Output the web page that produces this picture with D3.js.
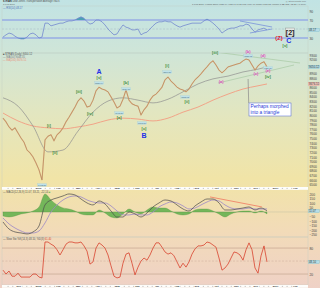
<!DOCTYPE html>
<html>
<head>
<meta charset="utf-8">
<script src="https://cdn.jsdelivr.net/npm/d3@7"></script>
<style>
  body { margin: 0; background: #fff; }
  svg { display: block; font-family: "Liberation Sans", Arial, sans-serif; }
</style>
</head>
<body>
<div id="chart"></div>
<script>
// closes, one sample every ~3 sessions
var closes = [7940,7860,7750,7680,7730,7620,7510,7420,7250,7190,
              7100,6970,6820,6600,7470,7550,7580,7450,7580,7640,
              7730,7860,7960,8070,8180,8310,8380,8310,8180,8200,
              8330,8530,8610,8570,8550,8510,8400,8290,8160,8200,
              8350,8550,8330,8250,8220,8200,8010,8120,8200,8330,
              8420,8460,8530,8610,8770,8830,8740,8680,8610,8570,
              8550,8510,8570,8680,8770,8830,8900,8980,9050,9130,
              9180,9090,8980,8920,8980,9050,9070,9090,9110,9130,
              9180,9220,9200,9090,8980,9070,9130,9160,9050];

// moving averages, sampled coarser
var maIdx = [0,5,10,15,20,25,30,35,40,45,50,55,60,65,70,75,80,85,88];
var ma50  = [8380,8200,7770,7210,7250,7660,8070,8310,8380,8330,8270,8350,8510,8680,8790,8850,8940,9000,9050];
var ma200 = [8050,7880,7770,7730,7710,7750,7810,7900,7940,7920,7880,7940,8070,8180,8330,8460,8570,8640,8680];

var rsi = [32,37,41,39,34,30,28,28,32,39,
           41,37,30,32,63,63,57,59,61,63,
           63,66,68,68,70,74,77,74,66,61,
           63,70,70,66,59,50,43,37,39,50,
           59,54,52,48,48,50,37,41,43,50,
           57,63,66,66,68,66,66,61,57,54,
           57,59,61,63,63,63,63,68,72,68,
           63,57,50,41,46,50,52,52,54,57,
           57,61,59,50,43,48,50,52,48];

// macd + signal every 2nd sample
var macd   = [-111,-189,-222,-233,-244,-222,-156,78,133,156,
              178,200,189,144,100,78,122,89,11,-56,
              -56,0,-22,-56,-11,56,100,133,122,78,
              33,11,67,111,144,144,100,22,22,33,
              44,56,22,44,11];
var signal = [-67,-133,-178,-211,-233,-233,-211,-122,0,78,
              133,167,178,167,133,111,100,100,67,11,
              -33,-33,-22,-33,-33,0,56,89,111,100,
              67,33,44,78,111,133,122,78,44,33,
              33,44,33,33,33];

var stoch = [29,20,27,15,15,22,13,13,13,13,
             20,20,13,11,94,94,89,85,76,64,
             76,89,94,94,92,92,94,85,73,43,
             48,80,92,87,80,64,39,15,11,13,
             45,66,69,45,18,36,50,57,52,64,
             80,92,92,82,71,66,69,62,48,34,
             45,36,48,66,78,85,85,87,94,92,
             87,82,57,29,34,43,57,71,69,64,
             52,76,92,76,34,22,62,85,48];

var months   = ["Dec","2016","Feb","Mar","Apr","May","Jun","Jul","Aug","Sep","Oct","Nov","Dec","2017","Feb"];
var monthPos = [5.1,11.7,18.3,24.9,31.4,38,44.6,51.2,57.8,64.4,71,77.6,84.1,90.7,97.3];

var priceTicks = d3.range(6500, 9301, 100);
var rsiTicks = [90, 70, 30];
var macdTicks = [200, 150, 100, 50, -50, -100, -150, -200, -250];
var stochTicks = [80, 20];

// wave counts: text, sample index, price, kind
var waves = [
  ["A", 32, 8939, "big"], ["[v]", 32, 8809, "g"],
  ["[iii]", 25.3, 8506, "g"], ["[iv]", 29, 8030, "g"],
  ["[i]", 15.3, 7770, "g"], ["[ii]", 17.3, 7186, "g"],
  ["[b]", 41, 8701, "g"], ["[a]", 38.7, 7943, "g"],
  ["[c]", 47, 7705, "g"], ["B", 47, 7554, "big"],
  ["[i]", 54.7, 9068, "g"], ["[ii]", 61.3, 8289, "g"],
  ["[iii]", 70.7, 9350, "g"],
  ["(a)", 72.7, 8722, "p"], ["(b)", 81.7, 9371, "p"], ["(c)", 84.3, 8895, "p"],
  ["(d)", 86.7, 9285, "p"], ["(e)", 88.3, 8965, "p"], ["[iv]", 88.3, 8830, "g"],
  ["[v]", 94, 9501, "g"], ["(Z)", 92, 9674, "red"], ["C", 95.3, 9609, "big"]
];
var priceBoxes = [
  [32, 8700, "8236.84"], [13, 6493, "6403.31"], [41, 8571, "8110.18"],
  [38.7, 8051, "7745.30"], [46.3, 7835, "7093.50"], [54.7, 8939, "8366.31"],
  [60.7, 8398, "7852.62"], [81.7, 9285, "9335.72"], [88.3, 9025, "9030.34"]
];
var triUpper = [[70.7, 9371], [99, 9133]];
var triLower = [[71.7, 8700], [97, 9090]];
var rsiUpper = [[79, 67.8], [89.7, 54.4]];
var rsiLower = [[82.3, 41.1], [89.7, 50]];
var macdTrend = [[69, 167], [86.3, 56]];

var W = 320, H = 288, plotL = 2, plotR = 308;

var x  = d3.scaleLinear().domain([0, 99]).range([3, 300]);
var yP = d3.scaleLinear().domain([6450, 9350]).range([187, 53]);
var yR = d3.scaleLinear().domain([0, 100]).range([51.5, 6.5]);
var yM = d3.scaleLinear().domain([-278, 244]).range([237, 190]);
var yS = d3.scaleLinear().domain([0, 100]).range([282.7, 239.4]);

var svg = d3.select("#chart").append("svg")
    .attr("width", W).attr("height", H);

var defs = svg.append("defs");
var grad = defs.append("linearGradient").attr("id", "bg")
    .attr("x1", 0).attr("y1", 0).attr("x2", 0).attr("y2", 1);
[[0, "#c1e3e4"], [0.18, "#cfe5d8"], [0.4, "#e3e6bf"], [0.62, "#f1e4a7"], [0.8, "#f2dbb8"], [1, "#efd1c6"]]
  .forEach(function(s) { grad.append("stop").attr("offset", s[0]).attr("stop-color", s[1]); });

svg.append("rect").attr("width", W).attr("height", H).attr("fill", "url(#bg)");

defs.append("clipPath").attr("id", "rsiHi").append("rect")
    .attr("x", 0).attr("y", 0).attr("width", W).attr("height", yR(70));
defs.append("clipPath").attr("id", "rsiLo").append("rect")
    .attr("x", 0).attr("y", yR(30)).attr("width", W).attr("height", 53 - yR(30));
defs.append("clipPath").attr("id", "mainClip").append("rect")
    .attr("x", plotL).attr("y", 53).attr("width", plotR - plotL).attr("height", 134);

// panel separators
[53, 237].forEach(function(y) {
  svg.append("line").attr("x1", plotL).attr("x2", plotR).attr("y1", y).attr("y2", y)
    .attr("stroke", "#b8c8c0").attr("stroke-width", 0.6);
});
svg.append("rect").attr("x", plotL).attr("y", 6).attr("width", plotR - plotL).attr("height", 279)
  .attr("fill", "none").attr("stroke", "#c4ccc4").attr("stroke-width", 0.4);

// ---------- RSI panel ----------
svg.append("line").attr("x1", plotL).attr("x2", plotR).attr("y1", yR(50)).attr("y2", yR(50))
  .attr("stroke", "#a4b4c4").attr("stroke-width", 0.5).attr("stroke-dasharray", "2,1.5");
[70, 30].forEach(function(v) {
  svg.append("line").attr("x1", plotL).attr("x2", plotR).attr("y1", yR(v)).attr("y2", yR(v))
    .attr("stroke", "#97ace4").attr("stroke-width", 1.3);
});
var rsiArea = d3.area().x(function(d, i) { return x(i); }).y1(function(d) { return yR(d); });
svg.append("path").datum(rsi).attr("clip-path", "url(#rsiHi)")
  .attr("d", rsiArea.y0(yR(70))).attr("fill", "#4c9fb4");
svg.append("path").datum(rsi).attr("clip-path", "url(#rsiLo)")
  .attr("d", rsiArea.y0(yR(30))).attr("fill", "#4c9fb4");
svg.append("path").datum(rsi)
  .attr("d", d3.line().x(function(d, i) { return x(i); }).y(function(d) { return yR(d); }))
  .attr("fill", "none").attr("stroke", "#7389cf").attr("stroke-width", 0.8);
[rsiUpper, rsiLower].forEach(function(l) {
  svg.append("line").attr("x1", x(l[0][0])).attr("y1", yR(l[0][1]))
    .attr("x2", x(l[1][0])).attr("y2", yR(l[1][1]))
    .attr("stroke", "#6f86da").attr("stroke-width", 0.7);
});

// ---------- price panel ----------
var main = svg.append("g").attr("clip-path", "url(#mainClip)");
var maLine = function(arr) {
  return d3.line().curve(d3.curveMonotoneX)
    .x(function(d, i) { return x(maIdx[i]); }).y(function(d) { return yP(d); })(arr);
};
main.append("path").attr("d", maLine(ma200)).attr("fill", "none")
  .attr("stroke", "#f2a488").attr("stroke-width", 1);
main.append("path").attr("d", maLine(ma50)).attr("fill", "none")
  .attr("stroke", "#8e8e8e").attr("stroke-width", 0.7);
[triUpper, triLower].forEach(function(l) {
  main.append("line").attr("x1", x(l[0][0])).attr("y1", yP(l[0][1]))
    .attr("x2", x(l[1][0])).attr("y2", yP(l[1][1]))
    .attr("stroke", "#a8c8a4").attr("stroke-width", 0.7);
});
var priceLine = d3.line().x(function(d, i) { return x(i); }).y(function(d) { return yP(d); });
main.append("path").datum(closes).attr("d", priceLine)
  .attr("fill", "none").attr("stroke", "#dba878").attr("stroke-width", 1.1);
main.append("path").datum(closes).attr("d", priceLine)
  .attr("fill", "none").attr("stroke", "#8c6a4c").attr("stroke-width", 0.3);

// small price boxes
var pb = svg.append("g");
priceBoxes.forEach(function(b) {
  var cx = x(b[0]), cy = yP(b[1]);
  pb.append("rect").attr("x", cx - 4.5).attr("y", cy - 1.4).attr("width", 9).attr("height", 2.8)
    .attr("fill", "#bfe2ea").attr("stroke", "#9cc8d4").attr("stroke-width", 0.2);
  pb.append("text").attr("x", cx).attr("y", cy + 0.8).attr("text-anchor", "middle")
    .attr("font-size", 2.2).attr("fill", "#4a6a78").text(b[2]);
});

// wave labels
var wl = svg.append("g").attr("text-anchor", "middle");
waves.forEach(function(w) {
  var t = wl.append("text").attr("x", x(w[1])).attr("y", yP(w[2])).attr("dy", "0.35em").text(w[0]);
  if (w[3] === "big") t.attr("font-size", 7).attr("font-weight", "bold").attr("fill", "#2130e8");
  else if (w[3] === "g") t.attr("font-size", 4).attr("font-weight", "bold").attr("fill", "#3b8c3b");
  else if (w[3] === "p") t.attr("font-size", 4).attr("font-weight", "bold").attr("fill", "#e048c0");
  else t.attr("font-size", 6).attr("font-weight", "bold").attr("fill", "#e4202c");
});
// [2] tag
var tx = x(95.7), ty = yP(9804);
svg.append("rect").attr("x", tx - 4.5).attr("y", ty - 4).attr("width", 9).attr("height", 8)
  .attr("fill", "#e4e8e4").attr("stroke", "#888").attr("stroke-width", 0.4);
svg.append("text").attr("x", tx).attr("y", ty).attr("dy", "0.36em").attr("text-anchor", "middle")
  .attr("font-size", 7).attr("font-weight", "bold").attr("fill", "#222").text("[2]");

// callout
var cbx = x(82), cby = yP(8268);
svg.append("line").attr("x1", x(81.7)).attr("y1", yP(8787)).attr("x2", x(81.9)).attr("y2", cby)
  .attr("stroke", "#8a8a8a").attr("stroke-width", 0.7);
svg.append("rect").attr("x", cbx).attr("y", cby).attr("width", 42).attr("height", 13)
  .attr("fill", "#fff").attr("stroke", "#4a62d6").attr("stroke-width", 0.5);
svg.append("text").attr("x", cbx + 1.5).attr("y", cby + 5.4).attr("font-size", 4.8)
  .attr("fill", "#2a3cd8").text("Perhaps morphed");
svg.append("text").attr("x", cbx + 1.5).attr("y", cby + 11).attr("font-size", 4.8)
  .attr("fill", "#2a3cd8").text("into a triangle");

// ---------- MACD panel ----------
var hist = macd.map(function(d, i) { return d - signal[i]; });
var mx = function(d, i) { return x(i * 2); };
svg.append("line").attr("x1", plotL).attr("x2", plotR).attr("y1", yM(0)).attr("y2", yM(0))
  .attr("stroke", "#b8b8a0").attr("stroke-width", 0.4);
svg.append("path").datum(hist)
  .attr("d", d3.area().curve(d3.curveMonotoneX).x(mx).y0(yM(0)).y1(function(d) { return yM(d); }))
  .attr("fill", "#74b65a").attr("stroke", "#4d8e3c").attr("stroke-width", 0.3);
svg.append("path").datum(signal)
  .attr("d", d3.line().curve(d3.curveMonotoneX).x(mx).y(function(d) { return yM(d); }))
  .attr("fill", "none").attr("stroke", "#9c88c6").attr("stroke-width", 0.8);
svg.append("path").datum(macd)
  .attr("d", d3.line().curve(d3.curveMonotoneX).x(mx).y(function(d) { return yM(d); }))
  .attr("fill", "none").attr("stroke", "#4a4a4a").attr("stroke-width", 0.7);
svg.append("line").attr("x1", x(macdTrend[0][0])).attr("y1", yM(macdTrend[0][1]))
  .attr("x2", x(macdTrend[1][0])).attr("y2", yM(macdTrend[1][1]))
  .attr("stroke", "#f07860").attr("stroke-width", 0.8);

// ---------- stochastics panel ----------
[80, 20].forEach(function(v) {
  svg.append("line").attr("x1", plotL).attr("x2", plotR).attr("y1", yS(v)).attr("y2", yS(v))
    .attr("stroke", "#c6a690").attr("stroke-width", 0.7);
});
svg.append("line").attr("x1", plotL).attr("x2", plotR).attr("y1", yS(50)).attr("y2", yS(50))
  .attr("stroke", "#c8aa98").attr("stroke-width", 0.5).attr("stroke-dasharray", "2,1.5");
svg.append("path").datum(stoch)
  .attr("d", d3.line().x(function(d, i) { return x(i); }).y(function(d) { return yS(d); }))
  .attr("fill", "none").attr("stroke", "#d8432f").attr("stroke-width", 0.8);

// ---------- date strips ----------
function dateStrip(y0) {
  svg.append("rect").attr("x", plotL).attr("y", y0).attr("width", plotR - plotL).attr("height", 2.8)
    .attr("fill", "#fdfdfb");
  var ticks = svg.append("g");
  ticks.selectAll("line").data(d3.range(1.5, 99, 1.55)).join("line")
    .attr("x1", function(d) { return x(d); }).attr("x2", function(d) { return x(d) + 1.2; })
    .attr("y1", y0 + 1.4).attr("y2", y0 + 1.4)
    .attr("stroke", "#9a9a9a").attr("stroke-width", 0.6);
  var ax = svg.append("g").attr("transform", "translate(0," + (y0 + 0.2) + ")")
    .call(d3.axisBottom(x).tickValues(monthPos)
      .tickFormat(function(d, i) { return months[i]; }).tickSize(0).tickPadding(0));
  ax.select(".domain").remove();
  ax.attr("font-size", 2.5).attr("font-family", null);
  ax.selectAll("text").attr("fill", "#333").attr("font-weight", "bold")
    .each(function() {
      var bb = this.getBBox();
      d3.select(this.parentNode).insert("rect", "text")
        .attr("x", bb.x - 0.5).attr("y", bb.y).attr("width", bb.width + 1).attr("height", bb.height)
        .attr("fill", "#fdfdfb");
    });
}
dateStrip(187);
dateStrip(285);

// ---------- right axes ----------
var boxYs = [];
function valueBox(y, txt, fill, stroke) {
  boxYs.push(y);
  svg.append("rect").attr("x", plotR + 0.5).attr("y", y - 1.7).attr("width", 11).attr("height", 3.4)
    .attr("fill", fill).attr("stroke", stroke).attr("stroke-width", 0.3);
  svg.append("text").attr("x", plotR + 1).attr("y", y + 1).attr("font-size", 2.8)
    .attr("fill", "#333").text(txt);
}
function rightAxis(scale, vals, fmt) {
  // leave out tick labels that sit under a value box
  var shown = vals.filter(function(v) {
    return boxYs.every(function(b) { return Math.abs(scale(v) - b) > 3.2; });
  });
  var g = svg.append("g").attr("transform", "translate(" + (plotR + 1) + ",0)")
    .call(d3.axisRight(scale).tickValues(shown).tickFormat(fmt).tickSize(0).tickPadding(0.5));
  g.select(".domain").remove();
  g.attr("font-size", 3.3).attr("font-family", null);
  g.selectAll("text").attr("fill", "#444");
}
valueBox(yR(rsi[rsi.length - 1]), "48.17", "#b6dde6", "#6fb2c4");
valueBox(yP(closes[closes.length - 1]), "9050.12", "#b6dde6", "#6fb2c4");
valueBox(yP(ma200[ma200.length - 1]), "8676.51", "#f6c8c0", "#e08c80");
valueBox(yM(macd[macd.length - 1]), "11.07", "#b6dde6", "#6fb2c4");
valueBox(yS(stoch[stoch.length - 1]), "48.10", "#b6dde6", "#6fb2c4");
rightAxis(yR, rsiTicks, d3.format("d"));
rightAxis(yP, priceTicks, d3.format("d"));
rightAxis(yM, macdTicks, d3.format("d"));
rightAxis(yS, stochTicks, d3.format("d"));

// ---------- texts ----------
function label(xp, yp, parts, size, anchor) {
  var t = svg.append("text").attr("x", xp).attr("y", yp).attr("font-size", size || 2.6)
    .attr("text-anchor", anchor || "start");
  parts.forEach(function(p) {
    t.append("tspan").attr("fill", p[1] || "#555").attr("font-weight", p[2] || null).text(p[0]);
  });
}
label(3, 2.4, [["$TRAN ", "#333", "bold"], ["Dow Jones Transportation Average INDX", "#555"]]);
label(3, 5.2, [["1-Feb-2017", "#666"]], 2.3);
label(306, 2.4, [["@ StockCharts.com", "#777"]], 2.3, "end");
label(306, 5.2, [["1-Feb-2017 4:01pm  Open 9121.04  High 9147.02  Low 9014.79  Close 9050.12  Volume 1.3B  Chg -72.27 (-0.79%)", "#555"]], 2.3, "end");
label(3, 8.6, [["\u2014 RSI(14) 48.17", "#4d6fb8"]]);
label(3, 55.4, [["\u25a0 $TRAN (Daily) 9050.12", "#555"]]);
label(3, 58, [["\u2014 MA(50) 9048.35", "#777"]]);
label(3, 60.6, [["\u2014 MA(200) 8676.51", "#e8907a"]]);
label(3, 192.8, [["\u2014 MACD(12,26,9) 11.07, 33.21, -22.14 ", "#555"], ["\u25a0", "#74b65a"]]);
label(3, 240.2, [["\u2014 Slow Sto %K(14,3) 48.10, %D(3) ", "#555"], ["61.40", "#d8432f"]]);
</script>
</body>
</html>
